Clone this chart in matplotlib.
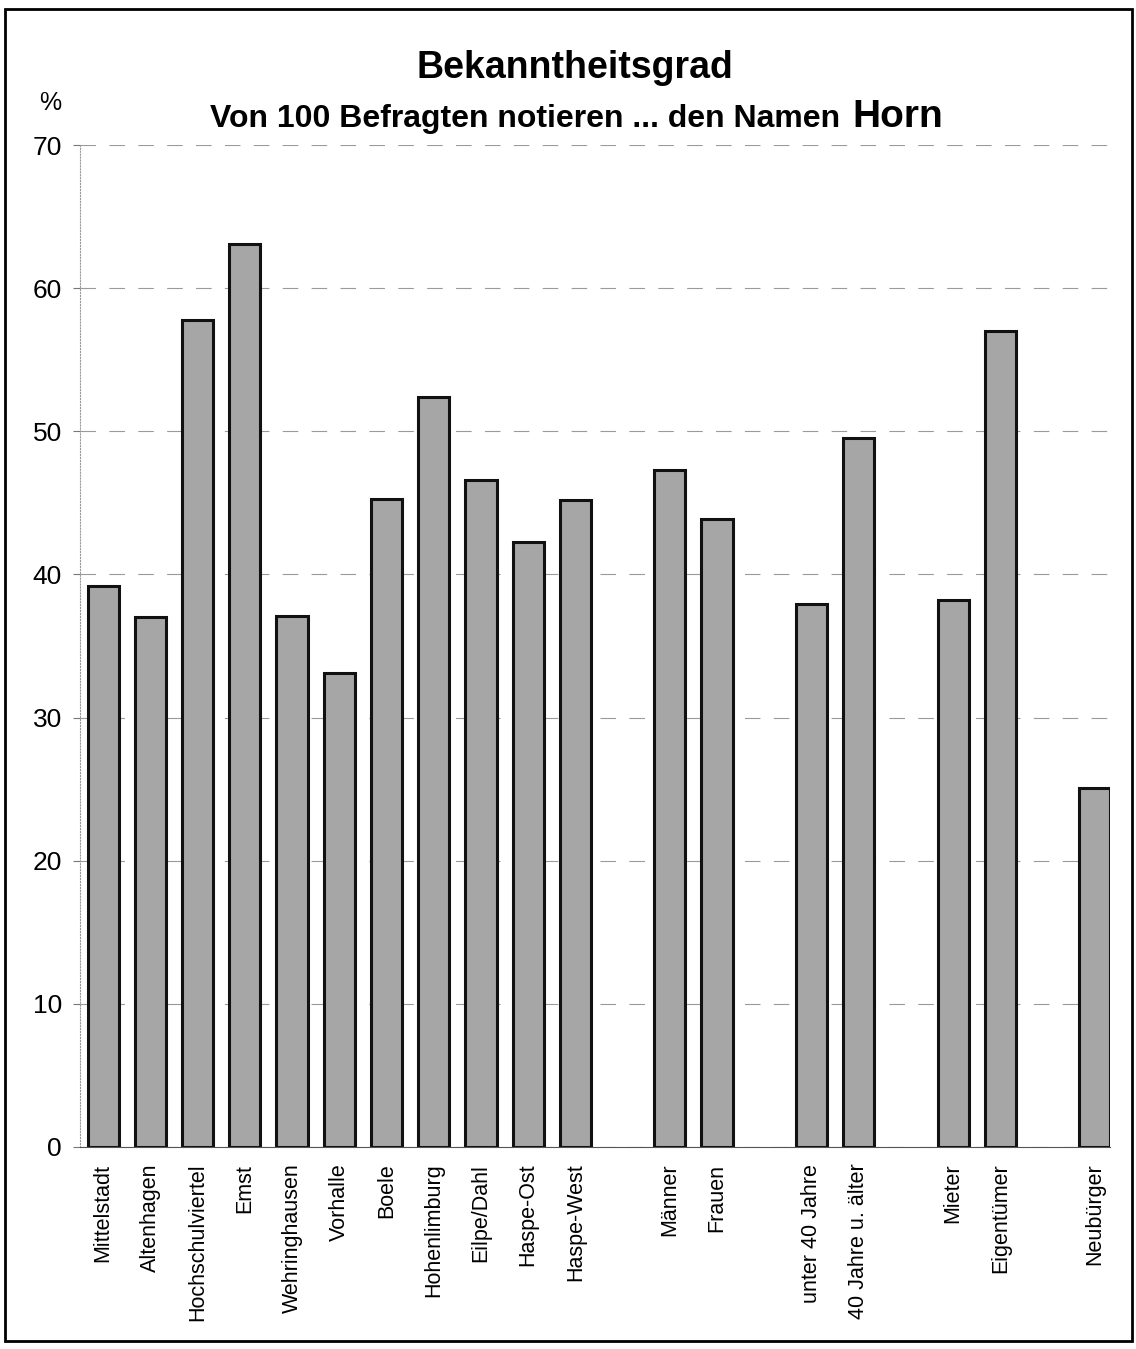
import matplotlib.pyplot as plt
from matplotlib.patches import Rectangle

plt.rcParams['font.family'] = ['Liberation Sans', 'DejaVu Sans']

categories = ['Mittelstadt', 'Altenhagen', 'Hochschulviertel', 'Emst', 'Wehringhausen',
              'Vorhalle', 'Boele', 'Hohenlimburg', 'Eilpe/Dahl', 'Haspe-Ost', 'Haspe-West',
              'Männer', 'Frauen', 'unter 40 Jahre', '40 Jahre u. älter',
              'Mieter', 'Eigentümer', 'Neubürger']
values = [39.2, 37.0, 57.8, 63.1, 37.1, 33.1, 45.3, 52.4, 46.6, 42.3, 45.2,
          47.3, 43.9, 37.9, 49.5, 38.2, 57.0, 25.1]
# slot numbers, groups separated by one empty slot
positions = [0, 1, 2, 3, 4, 5, 6, 7, 8, 9, 10, 12, 13, 15, 16, 18, 19, 21]
yticks = [0, 10, 20, 30, 40, 50, 60, 70]

W, H = 1136, 1349
fig = plt.figure(figsize=(W / 100, H / 100), dpi=100)

# axes placed in pixel terms: left 80, right 1110, bottom y=1147, top y=145
ax = fig.add_axes([80 / W, (H - 1147) / H, (1110 - 80) / W, (1147 - 145) / H])

ax.grid(axis='y', color='#9a9a9a', linestyle=(0, (14, 12)), linewidth=0.8, zorder=0)
ax.bar(positions, values, width=0.66, color='#a6a6a6', edgecolor='#111111',
       linewidth=2.2, zorder=2)

ax.set_xlim(-0.49, 21.32)
ax.set_ylim(0, 70)
ax.set_yticks(yticks)
ax.set_yticklabels([str(t) for t in yticks], fontsize=19)
ax.set_xticks(positions)
ax.set_xticklabels(categories, rotation=90, fontsize=15.5)
ax.tick_params(axis='x', length=0, pad=12)
ax.tick_params(axis='y', length=5, width=0.8, color='#777777', pad=8)

for side in ['top', 'right']:
    ax.spines[side].set_visible(False)
ax.spines['left'].set_color('#999999')
ax.spines['left'].set_linestyle(':')
ax.spines['left'].set_linewidth(0.8)
ax.spines['bottom'].set_color('#555555')
ax.spines['bottom'].set_linewidth(0.8)

fig.text(575 / W, 1 - 68 / H, 'Bekanntheitsgrad', ha='center', va='center',
         fontsize=27, fontweight='bold')
sub = fig.text(210 / W, 1 - 127 / H, 'Von 100 Befragten notieren ... den Namen',
               ha='left', va='baseline', fontsize=23, fontweight='bold')
fig.canvas.draw()
ext = sub.get_window_extent()
fig.text(ext.x1 / W + 12 / W, 1 - 127 / H, 'Horn', ha='left', va='baseline',
         fontsize=28, fontweight='bold')
fig.text(50 / W, 1 - 103 / H, '%', ha='center', va='center', fontsize=18)

fig.patches.append(Rectangle((5 / W, 8 / H), 1127 / W, 1332 / H, transform=fig.transFigure,
                             fill=False, edgecolor='black', linewidth=2))

fig.savefig('out.png', dpi=100)
